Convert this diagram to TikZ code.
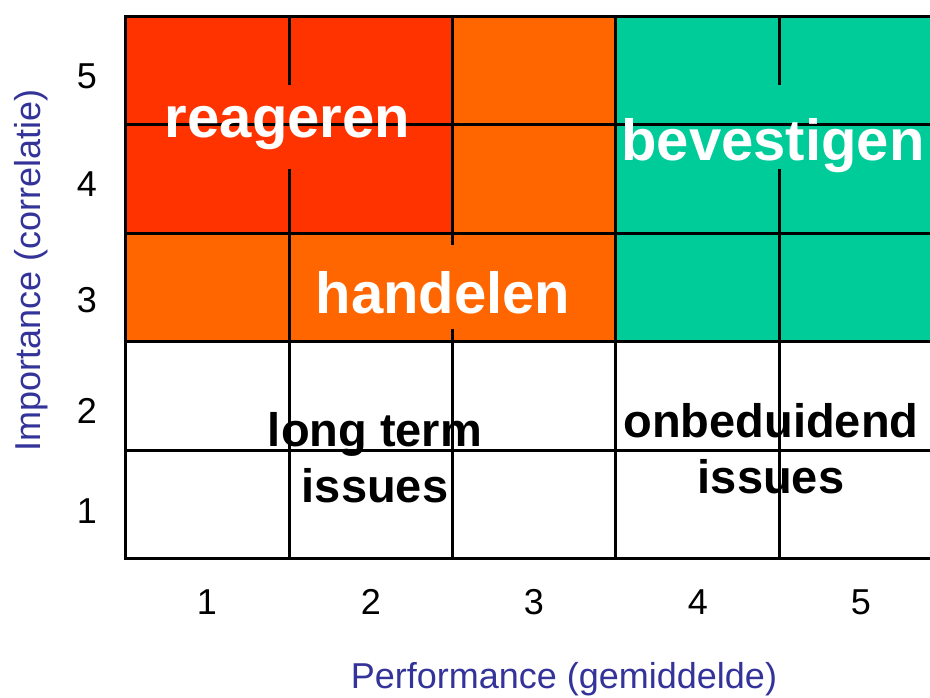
\documentclass[tikz,border=0pt]{standalone}
\usepackage{fontspec}
\setmainfont{Liberation Sans}
\definecolor{redc}{RGB}{255,51,0}
\definecolor{orangec}{RGB}{255,102,0}
\definecolor{greenc}{RGB}{0,204,153}
\definecolor{bluec}{RGB}{51,51,153}
\begin{document}
\begin{tikzpicture}[x=1pt,y=-1pt,
  gridline/.style={line width=3pt,black,line cap=rect},
  ticklbl/.style={font=\fontsize{36}{40}\selectfont,anchor=base,inner sep=0pt},
  axistitle/.style={font=\fontsize{36}{40}\selectfont,text=bluec,anchor=base,inner sep=0pt},
  biglbl/.style={font=\fontsize{58}{64}\selectfont\bfseries,text=white,anchor=base,inner sep=0pt},
  blacklbl/.style={font=\fontsize{47}{56}\selectfont\bfseries,text=black,align=center,inner sep=0pt}]
\useasboundingbox (0,0) rectangle (930,697);
\clip (0,0) rectangle (930,697);
% coloured zones
\fill[redc] (125,16) rectangle (452,233);
\fill[orangec] (452,16) rectangle (615,233);
\fill[orangec] (125,233) rectangle (615,341);
\fill[greenc] (615,16) rectangle (942,341);
% horizontal grid lines
\foreach \yy in {16,124,233,341,450,558}
  \draw[gridline] (125,\yy) -- (942,\yy);
% vertical grid lines
\draw[gridline] (125,16) -- (125,558);
\draw[gridline] (289,16) -- (289,83);
\draw[gridline] (289,170) -- (289,558);
\draw[gridline] (452,16) -- (452,243);
\draw[gridline] (452,330) -- (452,558);
\draw[gridline] (615,16) -- (615,558);
\draw[gridline] (779,16) -- (779,83);
\draw[gridline] (779,170) -- (779,558);
\draw[gridline] (942,16) -- (942,558);
% zone labels
\node[biglbl] (reageren) at (287.5,137) {reageren};
\node[biglbl] (bevestigen) at (773,160) {bevestigen};
\node[biglbl] (handelen) at (443,313) {handelen};
\node[blacklbl] (longterm) at (375,458) {long term\\issues};
\node[blacklbl] (onbeduidend) at (771,449) {onbeduidend\\issues};
% y tick labels
\node[ticklbl] (y5) at (87,88) {5};
\node[ticklbl] (y4) at (87,196) {4};
\node[ticklbl] (y3) at (87,312) {3};
\node[ticklbl] (y2) at (87,423) {2};
\node[ticklbl] (y1) at (87,523) {1};
% x tick labels
\node[ticklbl] (x1) at (207,614) {1};
\node[ticklbl] (x2) at (371,614) {2};
\node[ticklbl] (x3) at (534,614) {3};
\node[ticklbl] (x4) at (698,614) {4};
\node[ticklbl] (x5) at (861,614) {5};
% axis titles
\node[axistitle] (xtitle) at (564,688) {Performance (gemiddelde)};
\node[axistitle,rotate=90] (ytitle) at (40,270) {Importance (correlatie)};
\end{tikzpicture}
\end{document}
